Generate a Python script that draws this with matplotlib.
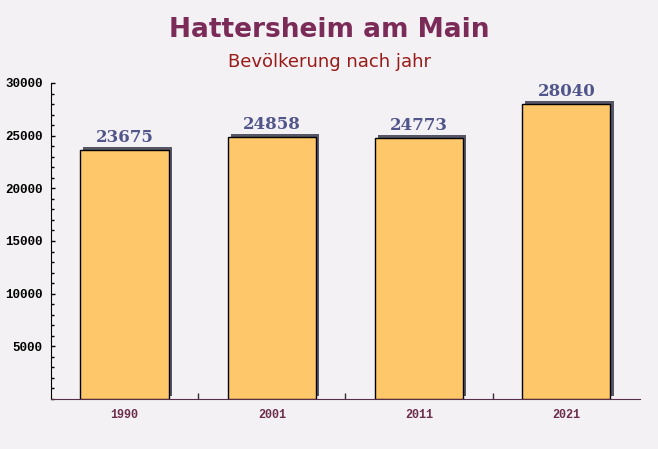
import matplotlib
matplotlib.use('Agg')
import matplotlib.pyplot as plt
import matplotlib.patheffects as pe
from matplotlib.ticker import MultipleLocator, FixedLocator

years = ['1990', '2001', '2011', '2021']
population = [23675, 24858, 24773, 28040]

title = 'Hattersheim am Main'
subtitle = 'Bevölkerung nach jahr'

fig = plt.figure(figsize=(6.58, 4.49), dpi=100)
fig.patch.set_facecolor('#f3f1f3')

ax = fig.add_axes([0.0775, 0.1114, 0.895, 0.7038])
ax.set_facecolor('none')

x = list(range(len(years)))
bars = ax.bar(x, population, width=0.6, color='#fdc76a',
              edgecolor='black', linewidth=1.0, zorder=3)
for b in bars:
    b.set_path_effects([pe.SimplePatchShadow(offset=(2.2, 2.2), shadow_rgbFace='#4e4e5e', alpha=0.95),
                        pe.Normal()])

# value labels above bars
for xi, v in zip(x, population):
    ax.text(xi, v + 350, str(v), ha='center', va='bottom', fontsize=12,
            fontweight='bold', family='DejaVu Serif', color='#50558a', zorder=4)

ax.set_xlim(-0.5, len(years) - 0.5)
ax.set_ylim(0, 30000)

ax.yaxis.set_minor_locator(MultipleLocator(1000))
ax.set_yticks([5000, 10000, 15000, 20000, 25000, 30000])
ax.set_yticklabels(['5000', '10000', '15000', '20000', '25000', '30000'],
                   family='Liberation Mono', fontweight='bold', fontsize=9)
ax.tick_params(axis='y', which='major', direction='in', length=3, width=1, color='black', pad=6)
ax.tick_params(axis='y', which='minor', direction='in', length=2, width=1, color='black')

ax.set_xticks(x)
ax.set_xticklabels(years, family='Liberation Mono', fontweight='bold',
                   fontsize=8.5, color='#6b2d4b')
ax.xaxis.set_minor_locator(FixedLocator([0.5, 1.5, 2.5]))
ax.tick_params(axis='x', which='major', length=0, pad=7)
ax.tick_params(axis='x', which='minor', direction='in', length=4.5, width=1, color='#3a2a3a')

ax.spines['top'].set_visible(False)
ax.spines['right'].set_visible(False)
ax.spines['left'].set_color('black')
ax.spines['bottom'].set_color('#5a2d4a')

fig.text(0.5, 0.933, title, ha='center', va='center', fontsize=19,
         fontweight='bold', color='#7a2b58')
fig.text(0.5, 0.862, subtitle, ha='center', va='center', fontsize=13,
         color='#9a1a1a')

fig.savefig('out.png', dpi=100, facecolor=fig.get_facecolor())
